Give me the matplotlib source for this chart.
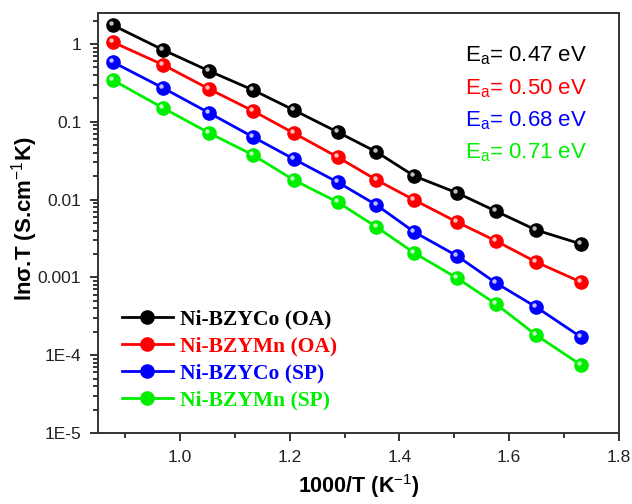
import matplotlib
matplotlib.use("Agg")
import matplotlib.pyplot as plt
import matplotlib.transforms as mtransforms
from matplotlib.ticker import LogLocator, FixedLocator, MultipleLocator, NullFormatter, FormatStrFormatter
from matplotlib.lines import Line2D

plt.rcParams['font.family'] = ['Liberation Sans', 'DejaVu Sans']
plt.rcParams['mathtext.fontset'] = 'custom'
plt.rcParams['mathtext.rm'] = 'Liberation Sans'
plt.rcParams['mathtext.bf'] = 'Liberation Sans:bold'
plt.rcParams['mathtext.it'] = 'Liberation Sans:italic'

x = [0.877, 0.969, 1.053, 1.133, 1.207, 1.287, 1.358, 1.427, 1.505, 1.576, 1.649, 1.731]
bzyco_oa = [1.75, 0.84, 0.45, 0.256, 0.142, 0.074, 0.041, 0.0201, 0.0122, 0.0071, 0.00407, 0.00269]
bzymn_oa = [1.06, 0.54, 0.264, 0.138, 0.0718, 0.0353, 0.0179, 0.00988, 0.00515, 0.00294, 0.00158, 0.00087]
bzyco_sp = [0.587, 0.272, 0.130, 0.0638, 0.0333, 0.0168, 0.00853, 0.00383, 0.00189, 0.000848, 0.000417, 0.000171]
bzymn_sp = [0.345, 0.150, 0.0718, 0.0374, 0.0179, 0.0093, 0.00445, 0.00206, 0.00098, 0.000455, 0.000182, 0.0000748]

labels = ['Ni-BZYCo (OA)', 'Ni-BZYMn (OA)', 'Ni-BZYCo (SP)', 'Ni-BZYMn (SP)']
colors = ['#000000', '#ff0000', '#0000ff', '#00ee00']
ea_texts = ['0.47', '0.50', '0.68', '0.71']
series = [bzyco_oa, bzymn_oa, bzyco_sp, bzymn_sp]

ytick_vals = [1e-5, 1e-4, 1e-3, 1e-2, 1e-1, 1]
ytick_labels = ['1E-5', '1E-4', '0.001', '0.01', '0.1', '1']

fig = plt.figure(figsize=(6.32, 5.04), dpi=100)
ax = fig.add_axes([0.155, 0.141, 0.824, 0.833])

hl = mtransforms.offset_copy(ax.transData, fig=fig, x=-1.8, y=1.8, units='dots')
handles = []
for ys, c, lab in zip(series, colors, labels):
    ax.plot(x, ys, '-', color=c, lw=2.0, marker='o', ms=9.5, mfc=c, mec=c, zorder=3)
    ax.plot(x, ys, 'o', ls='none', ms=3.2, mfc='white', mec='none', alpha=0.75,
            transform=hl, zorder=4)
    handles.append(Line2D([0], [0], color=c, lw=2.0, marker='o', ms=9.5, mfc=c, mec=c))

ax.set_yscale('log')
ax.set_xlim(0.85, 1.8)
ax.set_ylim(1e-5, 2.5)
ax.xaxis.set_major_locator(MultipleLocator(0.2))
ax.xaxis.set_minor_locator(MultipleLocator(0.1))
ax.xaxis.set_major_formatter(FormatStrFormatter('%.1f'))
ax.yaxis.set_major_locator(FixedLocator(ytick_vals))
ax.set_yticklabels(ytick_labels)
ax.yaxis.set_minor_locator(LogLocator(base=10, subs=range(2, 10), numticks=20))
ax.yaxis.set_minor_formatter(NullFormatter())

ax.tick_params(axis='both', which='major', direction='out', length=6, width=1.3,
               labelsize=12.5, colors='#222222', pad=6)
ax.tick_params(axis='both', which='minor', direction='out', length=3.5, width=1.1)
ax.tick_params(top=False, right=False, which='both')
for s in ax.spines.values():
    s.set_linewidth(1.4)
    s.set_color('#333333')

ax.set_xlabel('1000/T (K$^{-1}$)', fontsize=15.5, fontweight='bold')
ax.set_ylabel('lnσ.T (S.cm$^{-1}$K)', fontsize=16, fontweight='bold')
ax.xaxis.set_label_coords(0.5, -0.093)
ax.yaxis.set_label_coords(-0.112, 0.51)

for i, (c, ea) in enumerate(zip(colors, ea_texts)):
    ax.text(0.704, 0.898 - i * 0.077, 'E$_{\\mathrm{a}}$= ' + ea + ' eV', color=c,
            fontsize=16, transform=ax.transAxes, va='center', ha='left')

leg = ax.legend(handles, labels, loc='lower left', bbox_to_anchor=(0.008, 0.007),
                frameon=False, handlelength=2.4, handletextpad=0.3, labelspacing=0.32,
                prop={'family': 'Liberation Serif', 'weight': 'bold', 'size': 15.5})
for t, c in zip(leg.get_texts(), colors):
    t.set_color(c)

fig.savefig('out.png', dpi=100)
